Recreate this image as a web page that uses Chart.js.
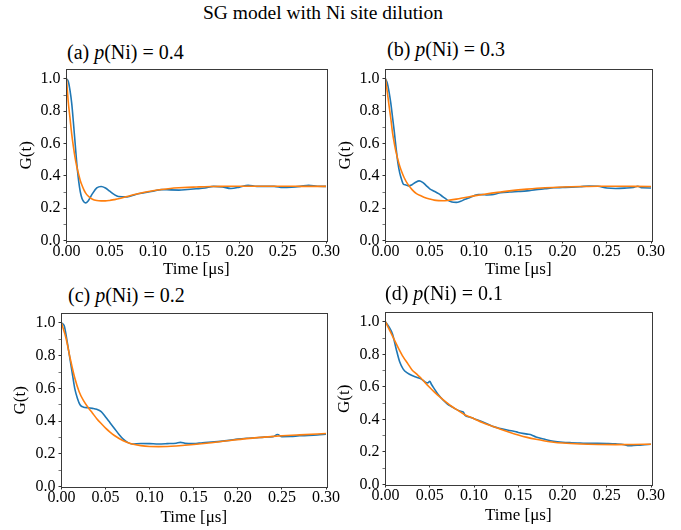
<!DOCTYPE html>
<html><head><meta charset="utf-8">
<script src="https://cdn.jsdelivr.net/npm/chart.js@4"></script>
<style>
body{margin:0;background:#fff;width:681px;height:530px;position:relative;overflow:hidden;font-family:"Liberation Serif","DejaVu Serif",serif;color:#000}
.t{position:absolute;white-space:nowrap;line-height:1}
canvas{position:absolute}
</style></head><body>
<div class="t" id="main" style="left:0;width:646px;text-align:center;top:3px;font-size:19.5px">SG model with Ni site dilution</div>
<script>
// ---- data ----
const figTitle = 'SG model with Ni site dilution';
const panelLetters = ['a', 'b', 'c', 'd'];
const pNi = ['0.4', '0.3', '0.2', '0.1'];
const xTicks = [0, 0.05, 0.10, 0.15, 0.20, 0.25, 0.30];
const xTickLabels = ['0.00', '0.05', '0.10', '0.15', '0.20', '0.25', '0.30'];
const yTicks = [0.0, 0.2, 0.4, 0.6, 0.8, 1.0];
const yTickLabels = ['0.0', '0.2', '0.4', '0.6', '0.8', '1.0'];
const yMinorTicks = [0.1, 0.3, 0.5, 0.7, 0.9];
const xLabel = 'Time [\u03bcs]';
const yLabel = 'G(t)';

// (a) p(Ni) = 0.4
const timeA = [0, 0.002, 0.004, 0.006, 0.008, 0.010, 0.012, 0.014, 0.016, 0.018, 0.020, 0.022, 0.025, 0.030, 0.035, 0.040, 0.045, 0.050, 0.055, 0.060, 0.070, 0.080, 0.090, 0.100, 0.110, 0.120, 0.130, 0.140, 0.150, 0.160, 0.170, 0.180, 0.190, 0.200, 0.210, 0.220, 0.230, 0.240, 0.250, 0.260, 0.270, 0.280, 0.290, 0.300];
const measA = [1.0, 0.985, 0.93, 0.85, 0.73, 0.60, 0.47, 0.37, 0.30, 0.258, 0.24, 0.233, 0.245, 0.29, 0.325, 0.334, 0.325, 0.305, 0.285, 0.272, 0.270, 0.285, 0.295, 0.305, 0.315, 0.313, 0.312, 0.316, 0.320, 0.325, 0.335, 0.332, 0.322, 0.33, 0.342, 0.335, 0.335, 0.335, 0.328, 0.33, 0.335, 0.342, 0.336, 0.335];
const fitTimeA = timeA;
const fitA = [1.0, 0.86, 0.76, 0.66, 0.58, 0.51, 0.455, 0.41, 0.37, 0.34, 0.315, 0.295, 0.275, 0.255, 0.247, 0.245, 0.245, 0.248, 0.253, 0.258, 0.272, 0.286, 0.298, 0.308, 0.316, 0.322, 0.326, 0.329, 0.331, 0.333, 0.334, 0.335, 0.336, 0.336, 0.336, 0.336, 0.336, 0.336, 0.336, 0.336, 0.335, 0.335, 0.335, 0.335];

// (b) p(Ni) = 0.3
const timeB = [0, 0.002, 0.004, 0.006, 0.008, 0.010, 0.012, 0.014, 0.016, 0.018, 0.020, 0.023, 0.026, 0.030, 0.034, 0.038, 0.042, 0.046, 0.050, 0.055, 0.060, 0.065, 0.070, 0.075, 0.080, 0.085, 0.090, 0.095, 0.100, 0.105, 0.110, 0.115, 0.120, 0.130, 0.140, 0.150, 0.160, 0.170, 0.180, 0.190, 0.200, 0.210, 0.220, 0.230, 0.240, 0.250, 0.260, 0.270, 0.280, 0.285, 0.290, 0.300];
const measB = [1.0, 0.975, 0.92, 0.85, 0.76, 0.67, 0.57, 0.48, 0.42, 0.38, 0.35, 0.344, 0.338, 0.345, 0.36, 0.369, 0.36, 0.34, 0.32, 0.305, 0.29, 0.27, 0.25, 0.238, 0.236, 0.243, 0.255, 0.265, 0.277, 0.285, 0.284, 0.282, 0.283, 0.295, 0.30, 0.303, 0.307, 0.315, 0.32, 0.326, 0.328, 0.33, 0.333, 0.337, 0.336, 0.325, 0.322, 0.324, 0.328, 0.336, 0.326, 0.325];
const fitTimeB = [0, 0.002, 0.004, 0.006, 0.008, 0.010, 0.012, 0.015, 0.018, 0.021, 0.025, 0.030, 0.035, 0.040, 0.045, 0.050, 0.055, 0.060, 0.065, 0.070, 0.080, 0.090, 0.100, 0.110, 0.120, 0.130, 0.140, 0.150, 0.160, 0.180, 0.200, 0.220, 0.240, 0.260, 0.280, 0.300];
const fitB = [1.0, 0.92, 0.835, 0.755, 0.665, 0.60, 0.545, 0.48, 0.43, 0.39, 0.35, 0.315, 0.29, 0.277, 0.265, 0.257, 0.25, 0.247, 0.246, 0.248, 0.256, 0.266, 0.276, 0.285, 0.293, 0.30, 0.307, 0.313, 0.318, 0.326, 0.331, 0.334, 0.336, 0.336, 0.335, 0.334];

// (c) p(Ni) = 0.2
const timeC = [0, 0.003, 0.006, 0.009, 0.012, 0.015, 0.018, 0.021, 0.025, 0.030, 0.035, 0.040, 0.045, 0.050, 0.055, 0.060, 0.065, 0.070, 0.075, 0.080, 0.090, 0.100, 0.110, 0.120, 0.130, 0.135, 0.140, 0.150, 0.160, 0.170, 0.180, 0.190, 0.200, 0.210, 0.220, 0.230, 0.240, 0.245, 0.250, 0.260, 0.270, 0.280, 0.290, 0.300];
const measC = [1.0, 0.985, 0.90, 0.80, 0.70, 0.60, 0.54, 0.50, 0.485, 0.482, 0.478, 0.472, 0.458, 0.425, 0.39, 0.355, 0.32, 0.29, 0.27, 0.26, 0.263, 0.262, 0.26, 0.262, 0.265, 0.27, 0.264, 0.262, 0.268, 0.272, 0.276, 0.282, 0.29, 0.295, 0.298, 0.302, 0.305, 0.318, 0.305, 0.306, 0.31, 0.312, 0.315, 0.32];
const fitTimeC = [0, 0.005, 0.010, 0.015, 0.020, 0.025, 0.030, 0.035, 0.040, 0.045, 0.050, 0.055, 0.060, 0.070, 0.080, 0.090, 0.100, 0.110, 0.120, 0.130, 0.140, 0.150, 0.170, 0.190, 0.210, 0.230, 0.250, 0.270, 0.300];
const fitC = [1.0, 0.91, 0.78, 0.665, 0.58, 0.525, 0.485, 0.45, 0.415, 0.385, 0.357, 0.333, 0.312, 0.28, 0.26, 0.25, 0.245, 0.244, 0.245, 0.248, 0.252, 0.257, 0.268, 0.281, 0.293, 0.302, 0.31, 0.316, 0.324];

// (d) p(Ni) = 0.1
const timeD = [0, 0.004, 0.008, 0.012, 0.016, 0.020, 0.025, 0.030, 0.035, 0.040, 0.045, 0.048, 0.050, 0.052, 0.055, 0.060, 0.065, 0.070, 0.075, 0.080, 0.085, 0.088, 0.090, 0.095, 0.100, 0.110, 0.120, 0.130, 0.140, 0.145, 0.150, 0.160, 0.165, 0.170, 0.180, 0.190, 0.200, 0.210, 0.220, 0.230, 0.240, 0.250, 0.260, 0.270, 0.275, 0.280, 0.290, 0.300];
const measD = [1.0, 0.97, 0.925, 0.835, 0.755, 0.71, 0.685, 0.67, 0.66, 0.65, 0.63, 0.625, 0.635, 0.615, 0.59, 0.55, 0.52, 0.495, 0.478, 0.462, 0.45, 0.445, 0.425, 0.415, 0.405, 0.385, 0.36, 0.344, 0.332, 0.328, 0.32, 0.31, 0.305, 0.292, 0.278, 0.266, 0.26, 0.257, 0.255, 0.253, 0.253, 0.252, 0.25, 0.245, 0.238, 0.24, 0.243, 0.248];
const fitTimeD = [0, 0.005, 0.010, 0.015, 0.020, 0.025, 0.030, 0.035, 0.040, 0.045, 0.050, 0.055, 0.060, 0.065, 0.070, 0.075, 0.080, 0.090, 0.100, 0.110, 0.120, 0.130, 0.140, 0.150, 0.160, 0.170, 0.180, 0.190, 0.200, 0.220, 0.240, 0.260, 0.280, 0.300];
const fitD = [1.0, 0.945, 0.89, 0.835, 0.785, 0.745, 0.705, 0.68, 0.655, 0.625, 0.597, 0.57, 0.545, 0.522, 0.50, 0.48, 0.462, 0.428, 0.405, 0.38, 0.36, 0.34, 0.322, 0.305, 0.29, 0.278, 0.268, 0.26, 0.255, 0.249, 0.246, 0.245, 0.246, 0.248];

// ---- layout ----
const FONT = '"Liberation Serif", "DejaVu Serif", serif';
const X_MIN = 0, X_MAX = 0.3, Y_MIN = 0, Y_MAX = 1.055;
const layouts = [
  {area: [66, 69, 325, 240], yTitleX: 26, xTitleY: 269, titlePos: [67, 42]},
  {area: [385, 69, 650, 240], yTitleX: 345, xTitleY: 269, titlePos: [387, 39]},
  {area: [61, 313, 325, 486], yTitleX: 20, xTitleY: 517, titlePos: [68, 285]},
  {area: [385, 312, 650, 484], yTitleX: 344, xTitleY: 515, titlePos: [385, 283]}
];
const seriesSets = [
  [timeA, measA, fitTimeA, fitA],
  [timeB, measB, fitTimeB, fitB],
  [timeC, measC, fitTimeC, fitC],
  [timeD, measD, fitTimeD, fitD]
];

document.getElementById('main').textContent = figTitle;

const framePlugin = {
  id: 'frame',
  afterDraw(chart) {
    const a = chart.chartArea, c = chart.ctx;
    c.save();
    c.strokeStyle = '#3a3a3a';
    c.lineWidth = 1;
    c.strokeRect(Math.round(a.left) - 0.5, Math.round(a.top) - 0.5,
                 Math.round(a.right - a.left) + 1, Math.round(a.bottom - a.top) + 1);
    c.restore();
  }
};

function labelFor(vals, labels, v) {
  const i = vals.findIndex(t => Math.abs(t - v) < 1e-9);
  return i >= 0 ? labels[i] : '';
}
const yAllTicks = yTicks.concat(yMinorTicks).sort((p, q) => p - q);

layouts.forEach((lay, k) => {
  const [L, T, R, B] = lay.area;
  const tHalf = 8.5;
  const left = lay.yTitleX - tHalf, top = T - 10;
  const width = R + 16 - left, height = lay.xTitleY + tHalf - top;
  const yW = L - left, xH = lay.xTitleY + tHalf - B;

  const ttl = document.createElement('div');
  ttl.className = 't';
  ttl.style.left = lay.titlePos[0] + 'px';
  ttl.style.top = lay.titlePos[1] + 'px';
  ttl.style.fontSize = '20px';
  ttl.innerHTML = '(' + panelLetters[k] + ') <i>p</i>(Ni) = ' + pNi[k];
  document.body.appendChild(ttl);

  const cv = document.createElement('canvas');
  cv.width = Math.round(width); cv.height = Math.round(height);
  cv.style.left = left + 'px'; cv.style.top = top + 'px';
  cv.style.width = Math.round(width) + 'px'; cv.style.height = Math.round(height) + 'px';
  document.body.appendChild(cv);

  const [tm, ms, ft, fv] = seriesSets[k];
  new Chart(cv, {
    type: 'line',
    data: {
      datasets: [
        {label: 'data', data: tm.map((t, i) => ({x: t, y: ms[i]})), borderColor: '#1f77b4',
         borderWidth: 1.6, pointRadius: 0, cubicInterpolationMode: 'monotone', fill: false, order: 1},
        {label: 'fit', data: ft.map((t, i) => ({x: t, y: fv[i]})), borderColor: '#ff7f0e',
         borderWidth: 1.6, pointRadius: 0, cubicInterpolationMode: 'monotone', fill: false, order: 0}
      ]
    },
    options: {
      responsive: false, animation: false, devicePixelRatio: 1, events: [],
      layout: {padding: {top: 10, right: 16, left: 0, bottom: 0}},
      plugins: {legend: {display: false}, tooltip: {enabled: false}, title: {display: false}},
      scales: {
        x: {
          type: 'linear', min: X_MIN, max: X_MAX,
          afterBuildTicks: s => { s.ticks = xTicks.map(v => ({value: v})); },
          afterFit: s => { s.height = xH; },
          ticks: {autoSkip: false, minRotation: 0, maxRotation: 0, padding: 0, color: '#000',
                  font: {family: FONT, size: 16, lineHeight: 1},
                  callback: v => labelFor(xTicks, xTickLabels, v)},
          grid: {display: true, drawOnChartArea: false, drawTicks: true, tickLength: 3, tickColor: '#333', tickWidth: 1},
          border: {display: false},
          title: {display: true, text: xLabel, color: '#000', padding: 0, font: {family: FONT, size: 17, lineHeight: 1}}
        },
        y: {
          type: 'linear', min: Y_MIN, max: Y_MAX,
          afterBuildTicks: s => { s.ticks = yAllTicks.map(v => ({value: v})); },
          afterFit: s => { s.width = yW; },
          ticks: {autoSkip: false, padding: 3, color: '#000',
                  font: {family: FONT, size: 16, lineHeight: 1},
                  callback: v => labelFor(yTicks, yTickLabels, v)},
          grid: {display: true, drawOnChartArea: false, drawTicks: true, tickLength: 3,
                 tickColor: ctx => (ctx.tick && labelFor(yTicks, yTickLabels, ctx.tick.value) === '') ? '#777' : '#333',
                 tickWidth: 1},
          border: {display: false},
          title: {display: true, text: yLabel, color: '#000', padding: 0, font: {family: FONT, size: 17, lineHeight: 1}}
        }
      }
    },
    plugins: [framePlugin]
  });
});
</script>
</body></html>
